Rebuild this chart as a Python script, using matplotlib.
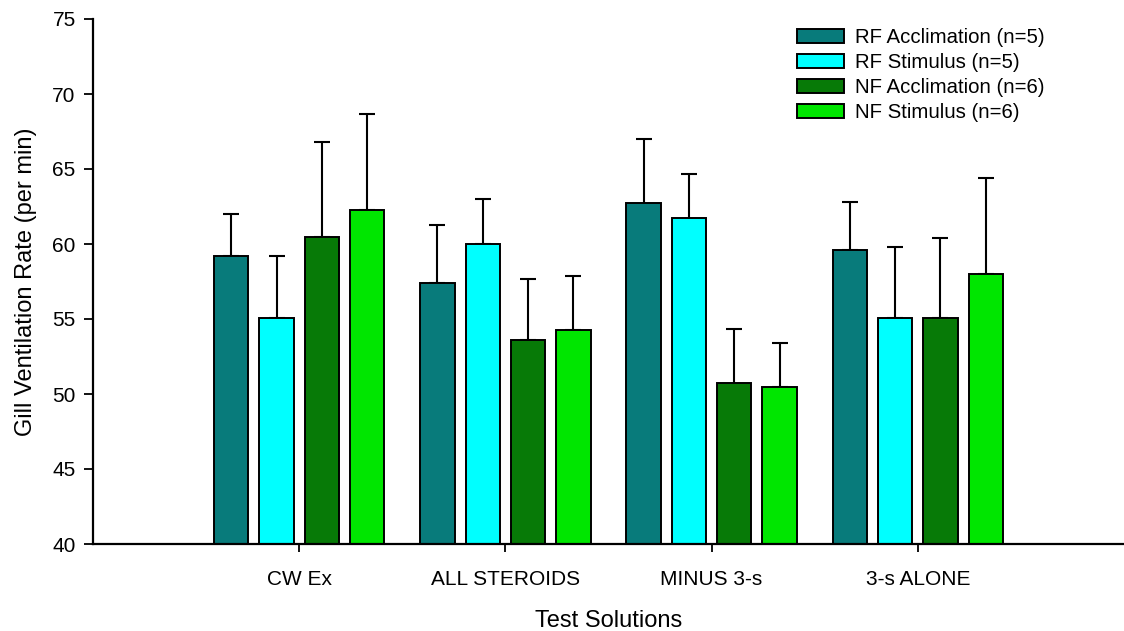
import numpy as np
import matplotlib
matplotlib.use("Agg")
import matplotlib.pyplot as plt

plt.rcParams['font.family'] = ['Liberation Sans', 'DejaVu Sans']

categories = ["CW Ex", "ALL STEROIDS", "MINUS 3-s", "3-s ALONE"]
series = ["RF Acclimation (n=5)", "RF Stimulus (n=5)",
          "NF Acclimation (n=6)", "NF Stimulus (n=6)"]
colors = ["#087b7b", "#00ffff", "#077a07", "#00e600"]

rf_accl = [59.2, 57.4, 62.7, 59.6]
rf_stim = [55.1, 60.0, 61.7, 55.1]
nf_accl = [60.5, 53.6, 50.7, 55.1]
nf_stim = [62.3, 54.3, 50.5, 58.0]

rf_accl_err = [2.8, 3.9, 4.3, 3.2]
rf_stim_err = [4.1, 3.0, 3.0, 4.7]
nf_accl_err = [6.3, 4.1, 3.6, 5.3]
nf_stim_err = [6.4, 3.6, 2.9, 6.4]

means = [rf_accl, rf_stim, nf_accl, nf_stim]
errs = [rf_accl_err, rf_stim_err, nf_accl_err, nf_stim_err]

fig = plt.figure(figsize=(11.24, 6.31), dpi=100)
ax = fig.add_axes([93/1124, 1-544/631, 1-93/1124, (544-19)/631])

x = np.arange(len(categories))
pitch = 0.22
width = 0.167
for i in range(4):
    pos = x + (i - 1.5) * pitch
    ax.bar(pos, np.array(means[i]) - 40, width, bottom=40, color=colors[i],
           edgecolor="black", linewidth=1.4, label=series[i], zorder=2)
    ax.errorbar(pos, means[i], yerr=[np.zeros(4), errs[i]], fmt="none",
                ecolor="black", elinewidth=1.5, capsize=5.8, capthick=1.5, zorder=1)

ax.set_xlim(-1, 4)
ax.set_ylim(40, 75)
ax.set_yticks(np.arange(40, 76, 5))
ax.set_xticks(x)
ax.set_xticklabels(categories, fontsize=15)
ax.tick_params(axis="y", labelsize=15, length=6.5, width=1.3, pad=6)
ax.tick_params(axis="x", length=5.5, width=1.3, pad=13)
for s in ["top", "right"]:
    ax.spines[s].set_visible(False)
for s in ["left", "bottom"]:
    ax.spines[s].set_linewidth(1.6)

ax.set_xlabel("Test Solutions", fontsize=17, labelpad=15)
ax.set_ylabel("Gill Ventilation Rate (per min)", fontsize=17, labelpad=11)

ax.legend(loc="upper left", bbox_to_anchor=(797/1124, 1-28/631),
          bbox_transform=fig.transFigure, frameon=False, fontsize=14.7,
          handlelength=2.3, handleheight=0.7, handletextpad=0.55,
          labelspacing=0.3, borderpad=0, borderaxespad=0)

fig.savefig("out.png", dpi=100)
